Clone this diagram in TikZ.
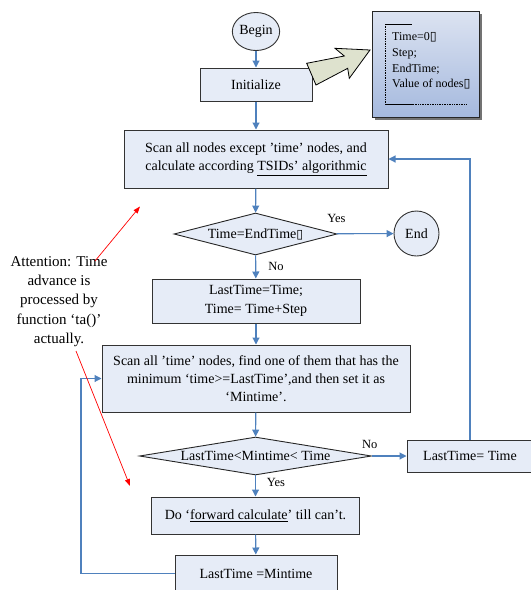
\documentclass[tikz,border=0pt]{standalone}
\usepackage{fontspec}
\setmainfont{Liberation Serif}
\newfontfamily\dvsans{DejaVu Sans}
\usetikzlibrary{shapes.geometric,arrows.meta}
\definecolor{boxfill}{HTML}{E6ECF7}
\definecolor{conn}{HTML}{4F81BD}
\definecolor{notetop}{HTML}{DCE3F1}
\definecolor{notebot}{HTML}{A5B9DE}
\definecolor{blockarrow}{HTML}{DEE2CE}
\newcommand{\missing}{{\dvsans\fontsize{12.5}{12}\selectfont ▯}}
\begin{document}
\begin{tikzpicture}[x=1pt,y=-1pt,
  box/.style={draw=black!80, line width=1pt, fill=boxfill, inner sep=0pt,
    align=center, font=\fontsize{14}{18.3}\selectfont},
  term/.style={draw=black!80, line width=0.9pt, fill=boxfill, inner sep=0pt,
    font=\fontsize{14}{16}\selectfont},
  decision/.style={diamond, draw=black!85, line width=0.9pt, fill=boxfill, inner sep=0pt},
  dtext/.style={font=\fontsize{14}{16}\selectfont, inner sep=0pt},
  lbl/.style={font=\fontsize{12.5}{14}\selectfont, inner sep=0pt},
  flow/.style={draw=conn, line width=1.1pt, -{Triangle[length=7pt,width=7pt]}},
  redarrow/.style={draw=red, line width=0.7pt, -{Triangle[length=7pt,width=5pt]}}
]
\useasboundingbox (0,0) rectangle (531,590);

% notes box with shadow and gradient
\fill[black!55] (374.5,13.5) rectangle (481.5,119.5);
\shade[top color=notetop, bottom color=notebot] (372,11) rectangle (479,117);
\draw[black!85, line width=0.9pt] (372,11) rectangle (479,117);
\coordinate (brTL) at (385,24);
\coordinate (brTR) at (412,24);
\coordinate (brBL) at (385,104);
\coordinate (brBM) at (413,104);
\coordinate (brBR) at (466,104);
\draw[black, line width=0.7pt] (brTL) -- (brTR);
\draw[black, line width=0.7pt, densely dotted] (brTL) -- (brBL);
\draw[black, line width=0.8pt] (brBL) -- (brBM);
\draw[black, line width=0.7pt, densely dotted] (brBM) -- (brBR);
\node[anchor=north west, align=left, inner sep=0pt, font=\fontsize{12}{15.7}\selectfont]
  (notes) at (392,32.5) {Time=0\missing\\Step;\\EndTime;\\Value of nodes\missing};

% nodes
\node[term, ellipse, minimum width=46, minimum height=38] (begin) at (256,31.5) {Begin};
\node[box, minimum width=112, minimum height=33] (init) at (256,84.5) {Initialize};
\node[box, minimum width=264, minimum height=58] (scan1) at (256,159)
  {Scan all nodes except ’time’ nodes, and\\calculate according \underline{TSIDs’ algorithmic}};
\node[decision, minimum width=163, minimum height=42] (dia1) at (255.5,234) {};
\node[dtext] at (dia1) {Time=EndTime\missing};
\node[term, circle, minimum size=45] (end) at (416.5,233.5) {End};
\node[box, minimum width=208, minimum height=44] (lt) at (256,301)
  {LastTime=Time;\\Time= Time+Step};
\node[box, minimum width=308, minimum height=67] (scan2) at (256,378.5)
  {Scan all ’time’ nodes, find one of them that has the\\minimum ‘time>=LastTime’,and then set it as\\‘Mintime’.};
\node[decision, minimum width=232, minimum height=38] (dia2) at (255.5,456) {};
\node[dtext] at (dia2) {LastTime<Mintime< Time};
\node[box, minimum width=126, minimum height=32] (ltt) at (470,456) {LastTime= Time};
\node[box, minimum width=208, minimum height=37] (do) at (255.5,515.5)
  {Do ‘\underline{forward calculate}’ till can’t.};
\node[box, minimum width=162, minimum height=37] (ltm) at (256,573.5) {LastTime =Mintime};

% block arrow from Initialize to notes
\draw[fill=blockarrow, draw=black, line width=0.8pt, line join=miter]
  (306.7,63.3) -- (344.3,56) -- (335,48.3) -- (370,50) -- (349.3,78.3)
  -- (347.7,68.3) -- (316,85) -- cycle;

% connectors
\draw[flow] (begin) -- (init);
\draw[flow] (init) -- (scan1);
\draw[flow] (scan1) -- (dia1);
\draw[flow] (dia1) -- (end);
\draw[flow] (dia1) -- (lt);
\draw[flow] (lt) -- (scan2);
\draw[flow] (scan2) -- (dia2);
\draw[flow] (dia2) -- (ltt);
\draw[flow] (ltt.north) |- (scan1.east);
\draw[flow] (dia2) -- (do);
\draw[flow] (do) -- (ltm);
\coordinate (loopc) at (81,573.5);
\draw[flow] (ltm.west) -- (loopc) |- (scan2.west);

% labels
\node[lbl] at (336.4,218) {Yes};
\node[lbl] at (276,266) {No};
\node[lbl] at (369.7,444) {No};
\node[lbl] at (276,482) {Yes};

% attention note
\node[align=center, inner sep=0pt, font=\fontsize{15}{19.3}\selectfont] (attn) at (59,301.5)
  {Attention: Time\\advance is\\processed by\\function ‘ta()’\\actually.};
\coordinate (r1s) at (95,261);
\coordinate (r1e) at (140,206.5);
\coordinate (r2s) at (76,351);
\coordinate (r2e) at (130,486);
\draw[redarrow] (r1s) -- (r1e);
\draw[redarrow] (r2s) -- (r2e);
\end{tikzpicture}
\end{document}
